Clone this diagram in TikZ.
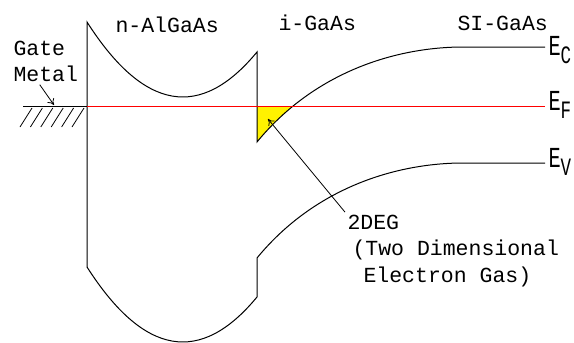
\documentclass[tikz,border=0pt]{standalone}
\usepackage{fontspec}
\setmonofont{Liberation Mono}
\usepackage{graphicx}
\usetikzlibrary{arrows.meta}
\newcommand{\bandE}[1]{\scalebox{0.7}[1]{E\raisebox{-8pt}{\fontsize{25}{25}\selectfont #1}}}
\begin{document}
\begin{tikzpicture}[x=1pt, y=-1pt, line width=1pt,
    label/.style={anchor=base west, inner sep=0pt, font=\ttfamily\fontsize{21.5}{24}\selectfont},
    level/.style={anchor=base west, inner sep=0pt, font=\ttfamily\fontsize{29}{30}\selectfont},
    pointer/.style={-{To[length=6pt,width=8pt]}, line width=0.8pt}]
    \useasboundingbox (0,0) rectangle (574,343);

    \begin{scope}
        \clip (257,106) rectangle (320,142);
        \fill [yellow] (257,142) .. controls (312,75) and (390,48) .. (460,47) -- (257,47) -- cycle;
    \end{scope}

    \draw (87,267) -- (87,22) .. controls (143.7,110.7) and (200.3,120.7) .. (257,52)
        -- (257,142) .. controls (312,75) and (390,48) .. (460,47) -- (545,47);
    \draw (87,267) .. controls (143.7,355.7) and (200.3,365.7) .. (257,297)
        -- (257,258) .. controls (312,191) and (390,164) .. (460,163) -- (545,163);

    \draw (23,106) -- (87,106);
    \foreach \x in {32,42.4,...,85} \draw [line width=0.8pt] (\x,108) -- ++(-12,19);
    \draw [red] (87,106) -- (545,106);

    \begin{scope}[every node/.style={label}]
        \node (nlayer) at (115,32) {n-AlGaAs};
        \node (ilayer) at (278,30) {i-GaAs};
        \node (silayer) at (457,30) {SI-GaAs};
        \node (gate) at (13,55) {Gate};
        \node (metal) at (13,81) {Metal};
        \node (twodeg) at (347,229) {2DEG};
        \node (twodim) at (352,255) {(Two Dimensional};
        \node (elgas) at (363,282) {Electron Gas)};
    \end{scope}

    \begin{scope}[every node/.style={level}]
        \node (ec) at (548,55) {\bandE{C}};
        \node (ef) at (548,110) {\bandE{F}};
        \node (ev) at (548,167) {\bandE{V}};
    \end{scope}

    \coordinate (gatetip) at (54,105);
    \coordinate (degtip) at (268,119);
    \draw [pointer] ([xshift=-6pt,yshift=-3pt]metal.south) -- (gatetip);
    \draw [pointer] ([xshift=-2pt,yshift=2pt]twodeg.north west) -- (degtip);
\end{tikzpicture}
\end{document}
